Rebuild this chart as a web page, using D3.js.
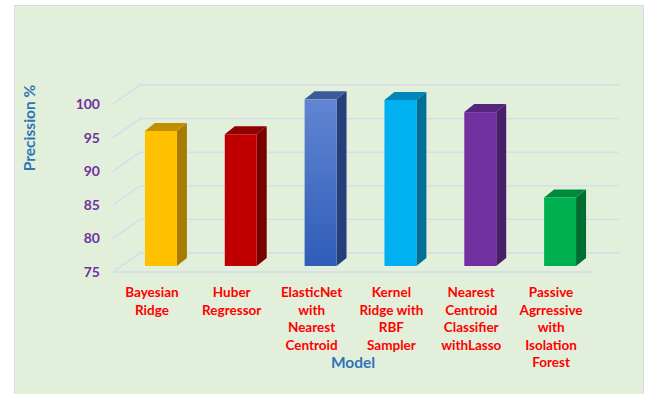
<!DOCTYPE html>
<html>
<head>
<meta charset="utf-8">
<script src="https://cdn.jsdelivr.net/npm/d3@7"></script>
<style>
  html, body { margin: 0; padding: 0; background: #ffffff; }
  svg { display: block; }
  text { font-family: Lato, "Open Sans", "DejaVu Sans", sans-serif; font-weight: bold; }
</style>
</head>
<body>
<svg id="chart" width="649" height="394"></svg>
<script>
// Precision of each model, percent
const models = [
  ["Bayesian", "Ridge"],
  ["Huber", "Regressor"],
  ["ElasticNet", "with", "Nearest", "Centroid"],
  ["Kernel", "Ridge with", "RBF", "Sampler"],
  ["Nearest", "Centroid", "Classifier", "withLasso"],
  ["Passive", "Agrressive", "with", "Isolation", "Forest"]
];
const precision = [95.1, 94.6, 99.8, 99.7, 97.9, 85.2];
const yTicks = [75, 80, 85, 90, 95, 100];

// face colours per bar: front (top/bottom for gradient), side, top
const faceColors = [
  { front: ["#ffc000", "#ffc000"], side: "#a67c00", top: "#bf8f00" },
  { front: ["#c00000", "#c00000"], side: "#7a0000", top: "#900000" },
  { front: ["#6185d2", "#2f5db8"], side: "#243f7a", top: "#3c5a98" },
  { front: ["#00b0f0", "#00b0f0"], side: "#006f98", top: "#0086b8" },
  { front: ["#7030a0", "#7030a0"], side: "#4a1f6a", top: "#56247c" },
  { front: ["#00b050", "#00b050"], side: "#006e30", top: "#008a3c" }
];

const svg = d3.select("#chart");
const W = 649, H = 394;

// panel background
svg.append("rect")
  .attr("x", 14.5).attr("y", 5.5)
  .attr("width", 629).attr("height", H)
  .attr("fill", "#e2efda")
  .attr("stroke", "#d6dce4").attr("stroke-width", 1);

// front plane of the 3D plot area
const x = d3.scaleBand()
  .domain(d3.range(models.length))
  .range([113, 592])
  .paddingInner(0.6).paddingOuter(0.3);
const xCenter = d3.scaleBand().domain(d3.range(models.length)).range([113, 592]);
const y = d3.scaleLinear().domain([75, 100]).range([272, 104]);

// depth vector of the whole plot box and of a bar
const depth = { dx: 27, dy: -19 };
const barOff = { dx: 8, dy: -6 };
const barDepth = { dx: 10, dy: -8 };

// gridlines: left wall diagonal + back wall horizontal
const grid = svg.append("g").attr("stroke", "#d3dbec").attr("stroke-width", 1.3).attr("fill", "none");
yTicks.forEach(t => {
  const yf = y(t);
  grid.append("path")
    .attr("d", `M113,${yf} L${113 + depth.dx},${yf + depth.dy} L${592 + depth.dx},${yf + depth.dy}`);
});
// floor front edge
grid.append("line")
  .attr("x1", 113).attr("x2", 592)
  .attr("y1", y(75)).attr("y2", y(75));

// gradients for front faces
const defs = svg.append("defs");
faceColors.forEach((c, i) => {
  const g = defs.append("linearGradient")
    .attr("id", "front" + i)
    .attr("x1", 0).attr("y1", 0).attr("x2", 0).attr("y2", 1);
  g.append("stop").attr("offset", "0%").attr("stop-color", c.front[0]);
  g.append("stop").attr("offset", "100%").attr("stop-color", c.front[1]);
});

// bars
const bars = svg.append("g");
precision.forEach((v, i) => {
  const x0 = x(i) + barOff.dx;
  const x1 = x0 + x.bandwidth();
  const yb = y(75) + barOff.dy;
  const yt = y(v) + barOff.dy;
  const ddx = barDepth.dx, ddy = barDepth.dy;
  const g = bars.append("g");
  // side face
  g.append("path")
    .attr("d", `M${x1},${yt} L${x1 + ddx},${yt + ddy} L${x1 + ddx},${yb + ddy} L${x1},${yb} Z`)
    .attr("fill", faceColors[i].side);
  // top face
  g.append("path")
    .attr("d", `M${x0},${yt} L${x0 + ddx},${yt + ddy} L${x1 + ddx},${yt + ddy} L${x1},${yt} Z`)
    .attr("fill", faceColors[i].top);
  // front face
  g.append("rect")
    .attr("x", x0).attr("y", yt)
    .attr("width", x1 - x0).attr("height", yb - yt)
    .attr("fill", `url(#front${i})`);
});

// y tick labels
svg.append("g")
  .selectAll("text")
  .data(yTicks)
  .join("text")
  .attr("x", 100)
  .attr("y", d => y(d))
  .attr("dy", "0.36em")
  .attr("text-anchor", "end")
  .attr("fill", "#7030a0")
  .attr("font-size", 14)
  .text(d => d);

// category labels
const cat = svg.append("g");
models.forEach((lines, i) => {
  const cx = xCenter(i) + xCenter.bandwidth() / 2 - 1;
  const t = cat.append("text")
    .attr("text-anchor", "middle")
    .attr("fill", "#ff0000")
    .attr("font-size", 13.5);
  lines.forEach((ln, k) => {
    t.append("tspan").attr("x", cx).attr("y", 297 + k * 17.5).text(ln);
  });
});

// axis titles
svg.append("text")
  .attr("x", 353).attr("y", 368)
  .attr("text-anchor", "middle")
  .attr("fill", "#2e75b6")
  .attr("font-size", 15.5)
  .text("Model");

svg.append("text")
  .attr("transform", "translate(34.5,128) rotate(-90)")
  .attr("text-anchor", "middle")
  .attr("fill", "#2e75b6")
  .attr("font-size", 15.5)
  .text("Precission %");
</script>
</body>
</html>
